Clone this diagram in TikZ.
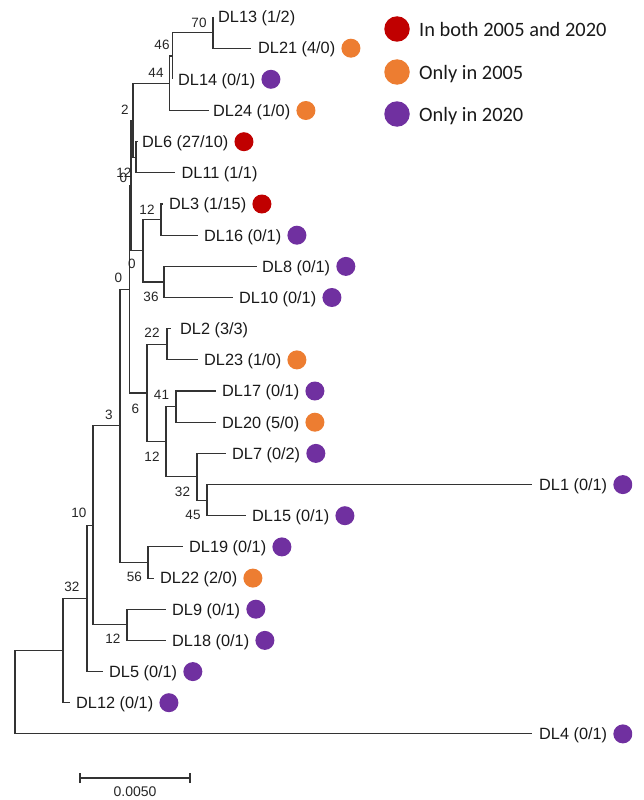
\documentclass[tikz,border=0pt]{standalone}
\usepackage{fontspec}
\setmainfont{Liberation Sans}
\newfontfamily\legfont{Carlito}
\definecolor{cboth}{HTML}{C00000}
\definecolor{conly05}{HTML}{ED7D31}
\definecolor{conly20}{HTML}{7030A0}
\newcommand\mkleaf[5]{% name, tip x, text x, y, label
  \coordinate (t#1) at (#2,#4);
  \node[leaf] (L#1) at (#3,#4+5.8) {#5};}
\newcommand\mkdot[2]{% name, colour
  \path (L#1.east |- t#1) ++(15.5,0) node[leafdot,fill=#2] (D#1) {};}
\begin{document}
\begin{tikzpicture}[x=1pt,y=-1pt,
  br/.style={draw=black!80,line width=1.1pt},
  leaf/.style={anchor=base west,inner sep=0pt,font=\fontsize{16.3}{18}\selectfont,text=black!90},
  bsv/.style={inner sep=0pt,font=\fontsize{13.5}{15}\selectfont,text=black!85},
  leafdot/.style={circle,inner sep=0pt,minimum size=19pt,draw=none},
  legdot/.style={circle,inner sep=0pt,minimum size=25.5pt,draw=none},
  legtxt/.style={anchor=base west,inner sep=0pt,font=\legfont\fontsize{20.4}{22}\selectfont,text=black!90}]
\useasboundingbox (0,0) rectangle (643,800);

% leaves
\mkleaf{DL13}{213}{218}{17.0}{DL13 (1/2)}
\mkleaf{DL21}{251}{258}{48.2}{DL21 (4/0)}
\mkleaf{DL14}{172.5}{178}{79.3}{DL14 (0/1)}
\mkleaf{DL24}{209}{213}{110.5}{DL24 (1/0)}
\mkleaf{DL6}{138}{142}{141.7}{DL6 (27/10)}
\mkleaf{DL11}{175}{181.5}{172.9}{DL11 (1/1)}
\mkleaf{DL3}{163}{169}{204.0}{DL3 (1/15)}
\mkleaf{DL16}{198}{204}{235.2}{DL16 (0/1)}
\mkleaf{DL8}{257}{262}{266.4}{DL8 (0/1)}
\mkleaf{DL10}{233}{239}{297.5}{DL10 (0/1)}
\mkleaf{DL2}{171}{180}{328.7}{DL2 (3/3)}
\mkleaf{DL23}{198}{204}{359.9}{DL23 (1/0)}
\mkleaf{DL17}{216}{222}{391.0}{DL17 (0/1)}
\mkleaf{DL20}{216}{222}{422.2}{DL20 (5/0)}
\mkleaf{DL7}{226}{232}{453.4}{DL7 (0/2)}
\mkleaf{DL1}{532}{539}{484.6}{DL1 (0/1)}
\mkleaf{DL15}{246}{252}{515.7}{DL15 (0/1)}
\mkleaf{DL19}{183}{189}{546.9}{DL19 (0/1)}
\mkleaf{DL22}{154}{160}{578.1}{DL22 (2/0)}
\mkleaf{DL9}{166}{172}{609.2}{DL9 (0/1)}
\mkleaf{DL18}{166}{172}{640.4}{DL18 (0/1)}
\mkleaf{DL5}{103}{109}{671.6}{DL5 (0/1)}
\mkleaf{DL12}{70}{76}{702.7}{DL12 (0/1)}
\mkleaf{DL4}{532}{539}{733.9}{DL4 (0/1)}

% internal nodes
\coordinate (n70) at (213,32.6);
\coordinate (n46) at (172.5,56.0);
\coordinate (n44) at (169.5,83.2);
\coordinate (nA) at (136,157.3);
\coordinate (n2) at (133,120.3);
\coordinate (n12a) at (161,219.6);
\coordinate (n36) at (164,282.0);
\coordinate (nB) at (143,250.8);
\coordinate (nC) at (131,185.6);
\coordinate (n22) at (167,344.3);
\coordinate (n41) at (176,406.6);
\coordinate (n45) at (207,500.2);
\coordinate (n32b) at (197,476.8);
\coordinate (n12c) at (166,441.7);
\coordinate (n6) at (147,393.0);
\coordinate (nD) at (129.3,289.3);
\coordinate (n56) at (148,562.5);
\coordinate (n0a) at (120,425.9);
\coordinate (n12d) at (127,624.8);
\coordinate (n3) at (93,525.4);
\coordinate (n10) at (87,598.5);
\coordinate (n32) at (63,650.6);
\coordinate (root) at (15,692.3);

% branches
\draw[br] (n70) |- (tDL13);  \draw[br] (n70) |- (tDL21);
\draw[br] (n46) |- (n70);    \draw[br] (n46) |- (tDL14);
\draw[br] (n44) |- (n46);    \draw[br] (n44) |- (tDL24);
\draw[br] (nA) |- (tDL6);    \draw[br] (nA) |- (tDL11);
\draw[br] (n2) |- (n44);     \draw[br] (n2) |- (nA);
\draw[br] (n12a) |- (tDL3);  \draw[br] (n12a) |- (tDL16);
\draw[br] (n36) |- (tDL8);   \draw[br] (n36) |- (tDL10);
\draw[br] (nB) |- (n12a);    \draw[br] (nB) |- (n36);
\draw[br] (nC) |- (n2);      \draw[br] (nC) |- (nB);
\draw[br] (n22) |- (tDL2);   \draw[br] (n22) |- (tDL23);
\draw[br] (n41) |- (tDL17);  \draw[br] (n41) |- (tDL20);
\draw[br] (n45) |- (tDL1);   \draw[br] (n45) |- (tDL15);
\draw[br] (n32b) |- (tDL7);  \draw[br] (n32b) |- (n45);
\draw[br] (n12c) |- (n41);   \draw[br] (n12c) |- (n32b);
\draw[br] (n6) |- (n22);     \draw[br] (n6) |- (n12c);
\draw[br] (nD) |- (nC);      \draw[br] (nD) |- (n6);
\draw[br] (n56) |- (tDL19);  \draw[br] (n56) |- (tDL22);
\draw[br] (n0a) |- (nD);     \draw[br] (n0a) |- (n56);
\draw[br] (n12d) |- (tDL9);  \draw[br] (n12d) |- (tDL18);
\draw[br] (n3) |- (n0a);     \draw[br] (n3) |- (n12d);
\draw[br] (n10) |- (n3);     \draw[br] (n10) |- (tDL5);
\draw[br] (n32) |- (n10);    \draw[br] (n32) |- (tDL12);
\draw[br] (root) |- (n32);   \draw[br] (root) |- (tDL4);

% bootstrap values
\node[bsv] (b70) at (199,23) {70};
\node[bsv] (b46) at (162,45) {46};
\node[bsv] (b44) at (156,73) {44};
\node[bsv] (b2) at (125,110) {2};
\node[bsv] (b12x) at (124,173) {12};
\node[bsv] (b0x) at (123.5,178) {0};
\node[bsv] (b12a) at (147,210) {12};
\node[bsv] (b0b) at (132,264) {0};
\node[bsv] (b0a) at (118.5,278) {0};
\node[bsv] (b36) at (151,297) {36};
\node[bsv] (b22) at (152,333) {22};
\node[bsv] (b41) at (161.5,395) {41};
\node[bsv] (b6) at (135.5,409) {6};
\node[bsv] (b3) at (109,415) {3};
\node[bsv] (b12c) at (152,457) {12};
\node[bsv] (b32b) at (182.5,491.5) {32};
\node[bsv] (b45) at (193,515) {45};
\node[bsv] (b10) at (79,513) {10};
\node[bsv] (b56) at (134.5,577) {56};
\node[bsv] (b32) at (72,587) {32};
\node[bsv] (b12d) at (113,638.5) {12};

% dots
\mkdot{DL21}{conly05}
\mkdot{DL14}{conly20}
\mkdot{DL24}{conly05}
\mkdot{DL6}{cboth}
\mkdot{DL3}{cboth}
\mkdot{DL16}{conly20}
\mkdot{DL8}{conly20}
\mkdot{DL10}{conly20}
\mkdot{DL23}{conly05}
\mkdot{DL17}{conly20}
\mkdot{DL20}{conly05}
\mkdot{DL7}{conly20}
\mkdot{DL15}{conly20}
\mkdot{DL19}{conly20}
\mkdot{DL22}{conly05}
\mkdot{DL9}{conly20}
\mkdot{DL18}{conly20}
\mkdot{DL5}{conly20}
\mkdot{DL12}{conly20}
\begin{scope}
\clip (0,0) rectangle (632,800);
\mkdot{DL1}{conly20}
\mkdot{DL4}{conly20}
\end{scope}

% legend
\node[legdot,fill=cboth] (lg1) at (397,29) {};
\node[legdot,fill=conly05] (lg2) at (397,72) {};
\node[legdot,fill=conly20] (lg3) at (397,114) {};
\node[legtxt] (lt1) at (419,36.5) {In both 2005 and 2020};
\node[legtxt] (lt2) at (419,79.5) {Only in 2005};
\node[legtxt] (lt3) at (419,121.5) {Only in 2020};

% scale bar
\coordinate (sb1) at (80,778);
\coordinate (sb2) at (190,778);
\draw[br] (sb1) -- (sb2);
\draw[br] ([yshift=-5]sb1) -- ([yshift=5]sb1);
\draw[br] ([yshift=-5]sb2) -- ([yshift=5]sb2);
\node[bsv,font=\fontsize{14}{16}\selectfont] (sbl) at (135,792) {0.0050};
\end{tikzpicture}
\end{document}
